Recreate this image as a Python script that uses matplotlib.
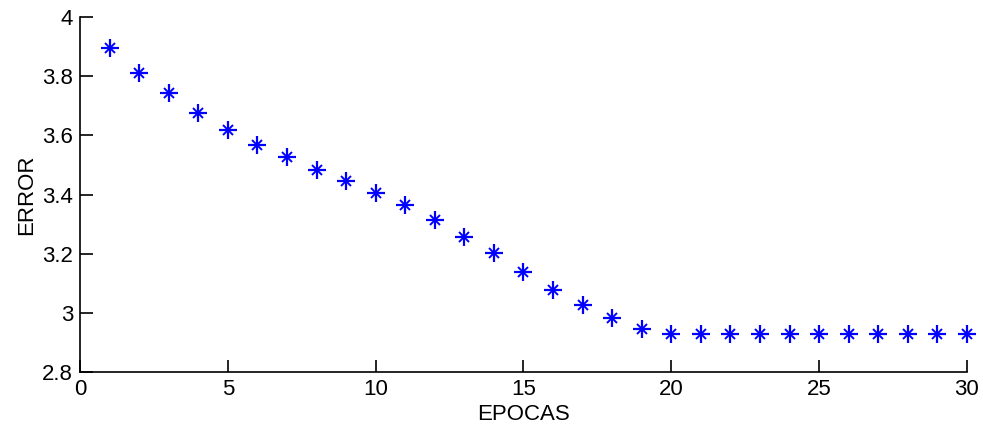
import numpy as np
import matplotlib
matplotlib.use("Agg")
import matplotlib.pyplot as plt

plt.rcParams["font.family"] = ["Liberation Sans", "DejaVu Sans"]

epocas = list(range(1, 31))
error = [3.895, 3.811, 3.743, 3.675, 3.618, 3.567, 3.527, 3.483, 3.446, 3.405,
         3.364, 3.314, 3.256, 3.202, 3.138, 3.077, 3.026, 2.982, 2.945, 2.928,
         2.928, 2.928, 2.928, 2.928, 2.928, 2.928, 2.928, 2.928, 2.928, 2.928]

fig = plt.figure(figsize=(9.83, 4.32), dpi=100)
ax = fig.add_axes([0.0814, 0.1389, 0.9023, 0.8217])

# asterisk like matlab: plus + small cross
ax.plot(epocas, error, linestyle="none", marker="+", markersize=12.5,
        markeredgewidth=1.6, color="#0000ff", clip_on=False)
ax.plot(epocas, error, linestyle="none", marker="x", markersize=6.5,
        markeredgewidth=1.4, color="#0000ff", clip_on=False)

ax.set_xlim(0, 30)
ax.set_ylim(2.8, 4)
ax.set_xticks([0, 5, 10, 15, 20, 25, 30])
ax.set_yticks([2.8, 3, 3.2, 3.4, 3.6, 3.8, 4])
ax.set_yticklabels(["2.8", "3", "3.2", "3.4", "3.6", "3.8", "4"])
ax.spines["top"].set_visible(False)
ax.spines["right"].set_visible(False)
ax.spines["left"].set_linewidth(1.2)
ax.spines["bottom"].set_linewidth(1.2)
ax.tick_params(direction="in", length=9, width=1.2, labelsize=16, pad=5)
ax.set_xlabel("EPOCAS", fontsize=16, labelpad=3)
ax.set_ylabel("ERROR", fontsize=16, labelpad=4)

fig.savefig("out.png", dpi=100)
